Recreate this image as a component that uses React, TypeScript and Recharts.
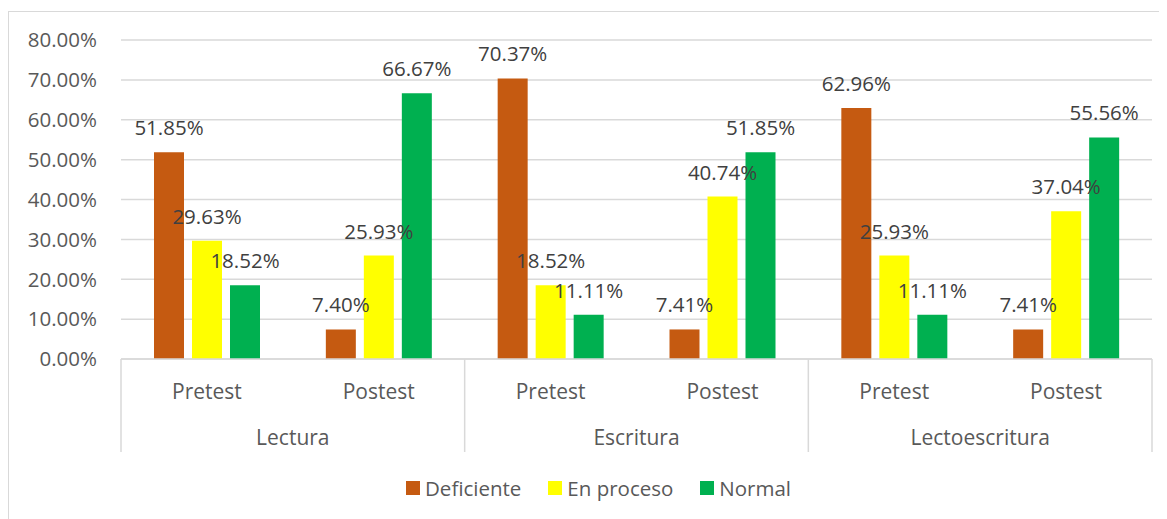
import { BarChart, Bar, XAxis, YAxis, CartesianGrid, LabelList } from 'recharts'

const groups = ['Lectura', 'Escritura', 'Lectoescritura']
const phases = ['Pretest', 'Postest']
const deficiente = [51.85, 7.4, 70.37, 7.41, 62.96, 7.41]
const enProceso = [29.63, 25.93, 18.52, 40.74, 25.93, 37.04]
const normal = [18.52, 66.67, 11.11, 51.85, 11.11, 55.56]
const yTicks = [0, 10, 20, 30, 40, 50, 60, 70, 80]

const series = [
  { key: 'deficiente', name: 'Deficiente', color: '#C55A11' },
  { key: 'enProceso', name: 'En proceso', color: '#FFFF00' },
  { key: 'normal', name: 'Normal', color: '#00B050' },
]

const data = groups.flatMap((group, gi) =>
  phases.map((phase, pi) => {
    const i = gi * 2 + pi
    return { group, phase, deficiente: deficiente[i], enProceso: enProceso[i], normal: normal[i] }
  })
)

const FONT = '"Open Sans", sans-serif'
const GRID = '#d9d9d9'
const pct = (v: number) => `${v.toFixed(2)}%`

function PhaseTick(props: any) {
  const { x, y, payload, index, visibleTicksCount, width } = props
  const band = payload?.offset ? payload.offset * 2 : width / (visibleTicksCount || 6)
  const top = y - 25
  const bottom = top + 93
  return (
    <g>
      {index % 2 === 0 && (
        <line x1={x - band / 2} x2={x - band / 2} y1={top} y2={bottom} stroke={GRID} strokeWidth={1.5} />
      )}
      {index === (visibleTicksCount ?? 6) - 1 && (
        <line x1={x + band / 2} x2={x + band / 2} y1={top} y2={bottom} stroke={GRID} strokeWidth={1.5} />
      )}
      <text x={x} y={y} dy="0.71em" textAnchor="middle" fill="#595959" fontSize={21} fontFamily={FONT}>
        {payload.value}
      </text>
    </g>
  )
}

function GroupTick(props: any) {
  const { x, y, payload } = props
  return (
    <text x={x} y={y} dy="0.71em" textAnchor="middle" fill="#595959" fontSize={21} fontFamily={FONT}>
      {payload.value}
    </text>
  )
}

export default function App() {
  return (
    <div
      style={{
        position: 'relative',
        marginTop: 3,
        width: 1160,
        height: 510,
        borderTop: `1px solid ${GRID}`,
        borderLeft: `1px solid ${GRID}`,
        fontFamily: FONT,
      }}
    >
      <BarChart
        width={1158}
        height={507}
        data={data}
        margin={{ top: 28, right: 15, left: 0, bottom: 65 }}
        barSize={30}
        barGap={8}
      >
        <CartesianGrid vertical={false} stroke={GRID} strokeWidth={1.5} />
        <YAxis
          domain={[0, 80]}
          ticks={yTicks}
          width={112}
          axisLine={false}
          tickLine={false}
          tickSize={0}
          tickMargin={24}
          tickFormatter={pct}
          tick={{ fontSize: 20.5, fill: '#595959', fontFamily: FONT }}
        />
        <XAxis
          dataKey="phase"
          height={50}
          axisLine={{ stroke: GRID, strokeWidth: 1.5 }}
          tickLine={false}
          tickSize={0}
          tickMargin={25}
          interval={0}
          tick={<PhaseTick />}
        />
        <XAxis
          xAxisId="group"
          dataKey="group"
          allowDuplicatedCategory={false}
          height={45}
          axisLine={false}
          tickLine={false}
          tickSize={0}
          tickMargin={21}
          interval={0}
          tick={<GroupTick />}
        />
        {series.map(s => (
          <Bar key={s.key} dataKey={s.key} name={s.name} fill={s.color} isAnimationActive={false}>
            <LabelList
              dataKey={s.key}
              position="top"
              offset={17}
              formatter={(v: any) => pct(Number(v))}
              style={{ fontSize: 20.5, fill: '#404040', fontFamily: FONT }}
            />
          </Bar>
        ))}
      </BarChart>
      <div
        style={{
          position: 'absolute',
          left: 397,
          top: 464,
          height: 24,
          display: 'flex',
          alignItems: 'center',
          gap: 27,
          fontSize: 20.5,
          color: '#595959',
        }}
      >
        {series.map(s => (
          <div key={s.key} style={{ display: 'flex', alignItems: 'center', gap: 5 }}>
            <span style={{ width: 14, height: 14, background: s.color, display: 'inline-block' }} />
            <span>{s.name}</span>
          </div>
        ))}
      </div>
    </div>
  )
}
